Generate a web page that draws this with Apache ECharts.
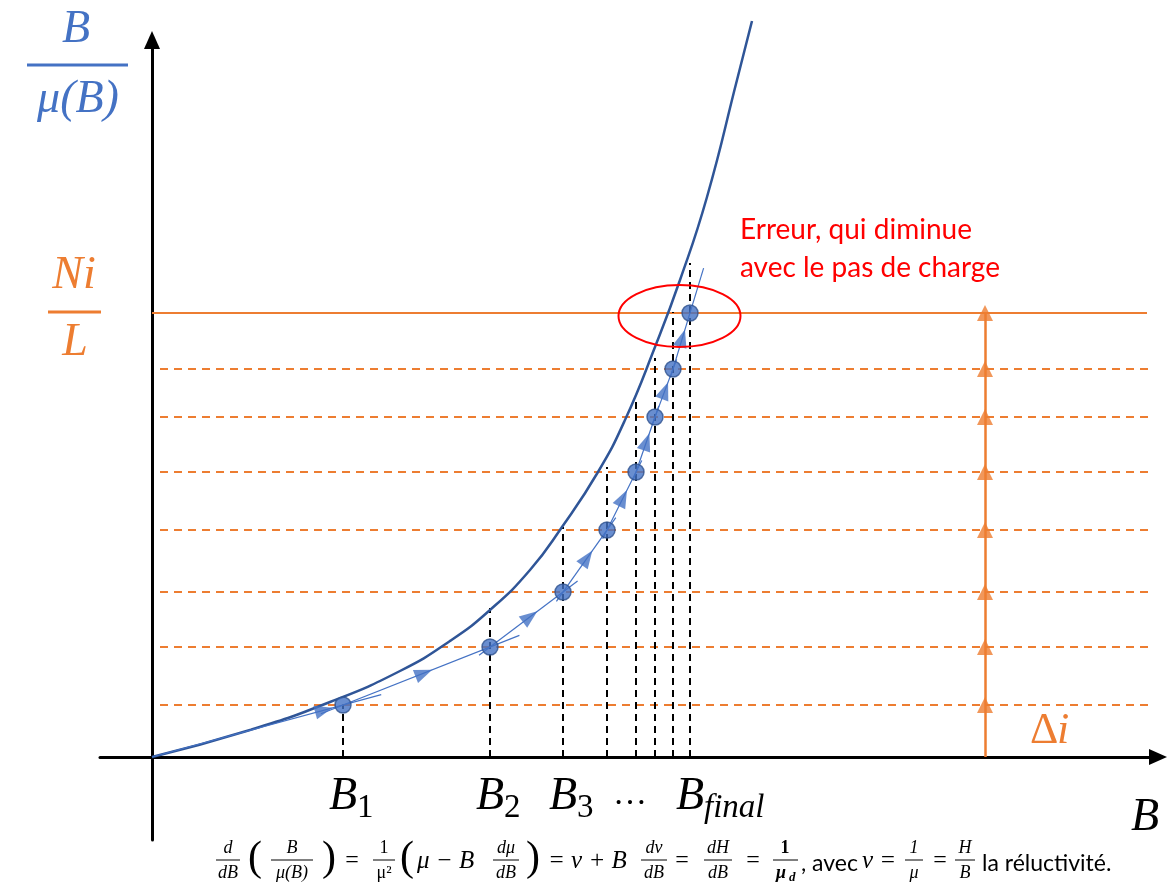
<!DOCTYPE html>
<html>
<head>
<meta charset="utf-8">
<script src="https://cdn.jsdelivr.net/npm/echarts@6/dist/echarts.min.js"></script>
<style>html,body{margin:0;padding:0;background:#fff}#main{width:1167px;height:885px}</style>
</head>
<body>
<div id="main"></div>
<script>
// courbe B/mu(B) en fonction de B (unités arbitraires)
var curveB = [0, 0.98, 1.78, 2.48, 2.98, 3.38, 3.78, 4.10, 4.46, 4.73, 5.03, 5.28, 5.55, 5.85, 6.00];
var curveH = [0, 0.27, 0.55, 0.86, 1.16, 1.47, 1.87, 2.30, 2.85, 3.37, 4.10, 4.77, 5.60, 6.77, 7.36];
// points obtenus pas à pas (B_k, Ni_k/L)
var stepB = [1.91, 3.38, 4.11, 4.55, 4.84, 5.03, 5.21, 5.38];
var stepH = [0.52, 1.10, 1.65, 2.27, 2.85, 3.40, 3.88, 4.44];
// hauteur de la courbe au droit de chaque B_k
var curveAtStep = [0.52, 1.49, 2.30, 2.90, 3.60, 3.99, 4.45, 4.94];
// étiquettes sous l'axe B
var tickB = [1.91, 3.38, 4.11, 4.78, 5.38];
var tickMain = ['B', 'B', 'B', '…', 'B'];
var tickSub = ['1', '2', '3', '', 'final'];
var deltaIB = 8.33;          // position de la flèche des pas de courant
var errCenter = [5.275, 4.41];

var blue = '#4472C4', dark = '#2F5597', orange = '#ED7D31';
var mathFont = '"Liberation Serif", "DejaVu Serif", serif';
var sansFont = 'Lato, "Open Sans", sans-serif';

var chart = echarts.init(document.getElementById('main'));

var curve = curveB.map(function (b, i) { return [b, curveH[i]]; });
var pts = [[0, 0]].concat(stepB.map(function (b, i) { return [b, stepH[i]]; }));

var segs = [], arrows = [];
for (var i = 1; i < pts.length; i++) {
    var a = pts[i - 1], b = pts[i], dx = b[0] - a[0], dy = b[1] - a[1];
    var s0 = i === 1 ? 0 : -0.15, s1 = i === pts.length - 1 ? 1.8 : 1.2;
    segs.push({coords: [[a[0] + s0 * dx, a[1] + s0 * dy], [a[0] + s1 * dx, a[1] + s1 * dy]]});
    var t = i === 1 ? 0.9 : 0.55;
    arrows.push({value: [a[0] + t * dx, a[1] + t * dy], symbolRotate: Math.atan2(dy, dx) * 180 / Math.PI - 90});
}

var hDashed = stepH.slice(0, -1).map(function (h) { return {coords: [[0.08, h], [10.0, h]]}; });
var hSolid = [{coords: [[0, stepH[stepH.length - 1]], [9.95, stepH[stepH.length - 1]]]}];
var vDashed = stepB.map(function (b, i) { return {coords: [[b, 0], [b, curveAtStep[i]]]}; });

var axisCommon = {
    type: 'value',
    axisLine: {onZero: true, symbol: ['none', 'triangle'], symbolSize: [16, 18], lineStyle: {color: '#000', width: 3}},
    axisTick: {show: false},
    axisLabel: {show: false},
    splitLine: {show: false}
};

option = {
    animation: false,
    grid: {left: 100, right: 9, top: 40, bottom: 45},
    xAxis: echarts.util.merge({min: -0.52, max: 10.06}, axisCommon),
    yAxis: echarts.util.merge({min: -0.83, max: 7.17}, axisCommon),
    series: [
        {
            type: 'lines', coordinateSystem: 'cartesian2d', clip: false, z: 2,
            lineStyle: {color: orange, width: 2, type: [8, 6], opacity: 1},
            data: hDashed
        },
        {
            type: 'lines', coordinateSystem: 'cartesian2d', clip: false, z: 2,
            lineStyle: {color: orange, width: 2, opacity: 1},
            data: hSolid
        },
        {
            type: 'lines', coordinateSystem: 'cartesian2d', clip: false, z: 2,
            lineStyle: {color: '#000', width: 2, type: [7, 5], opacity: 1},
            data: vDashed
        },
        {
            type: 'line', data: curve, smooth: 0.5, showSymbol: false, clip: false, z: 4,
            lineStyle: {color: dark, width: 2.5}
        },
        {
            type: 'lines', coordinateSystem: 'cartesian2d', clip: false, z: 5,
            lineStyle: {color: blue, width: 1.2, opacity: 1},
            data: segs
        },
        {
            type: 'scatter', data: arrows, symbol: 'triangle', symbolSize: [14, 18], clip: false, z: 6,
            itemStyle: {color: blue}
        },
        {
            type: 'scatter', data: pts.slice(1), symbolSize: 16, clip: false, z: 7,
            itemStyle: {color: blue, borderColor: '#2F528F', borderWidth: 1.5}
        },
        {
            type: 'lines', coordinateSystem: 'cartesian2d', clip: false, z: 3,
            lineStyle: {color: orange, width: 2.5, opacity: 1},
            data: [{coords: [[deltaIB, 0], [deltaIB, stepH[stepH.length - 1]]]}]
        },
        {
            type: 'scatter', symbol: 'triangle', symbolSize: [16, 16], clip: false, z: 4,
            itemStyle: {color: orange},
            data: stepH.map(function (h) { return [deltaIB, h]; })
        }
    ]
};
chart.setOption(option);

function txt(x, y, text, size, color, o) {
    o = o || {};
    return {
        type: 'text', x: x, y: y, z: 100,
        style: {
            text: text, fill: color || '#000',
            font: (o.style || 'italic') + ' ' + (o.weight || 'normal') + ' ' + size + 'px ' + (o.family || mathFont),
            align: o.align || 'center', verticalAlign: 'middle'
        }
    };
}
function bar(x1, x2, y, color, w) {
    return {type: 'line', z: 100, shape: {x1: x1, y1: y, x2: x2, y2: y}, style: {stroke: color, lineWidth: w}};
}
var g = [];
function frac(cx, num, den, w, o) {
    g.push(txt(cx, 848, num, 18, '#000', o));
    g.push(txt(cx, 873, den, 18, '#000', o));
    g.push(bar(cx - w / 2, cx + w / 2, 860, '#000', 1));
}

// titres des axes
g.push(txt(76, 30, 'B', 46, blue));
g.push(bar(27, 128, 65, blue, 3));
g.push(txt(78, 100, 'μ(B)', 46, blue));
g.push(txt(74, 276, 'Ni', 46, orange));
g.push(bar(48, 101, 312, orange, 3));
g.push(txt(75, 343, 'L', 46, orange));
g.push(txt(1145, 818, 'B', 46, '#000'));
g.push(txt(1030, 731, 'Δ', 44, orange, {style: 'normal', align: 'left'}));
g.push(txt(1057, 731, 'i', 44, orange, {align: 'left'}));

// étiquettes B_k
tickB.forEach(function (b, i) {
    var px = chart.convertToPixel({gridIndex: 0}, [b, 0])[0];
    if (tickMain[i] === '…') {
        g.push(txt(px, 795, '…', 34, '#000', {style: 'normal'}));
        return;
    }
    g.push(txt(px, 797, 'B', 46, '#000'));
    g.push(txt(px + 14, 808, tickSub[i], 33, '#000', {align: 'left', style: tickSub[i] === 'final' ? 'italic' : 'normal'}));
});

// ellipse d'erreur
var ec = chart.convertToPixel({gridIndex: 0}, errCenter);
g.push({type: 'ellipse', z: 90, shape: {cx: ec[0], cy: ec[1], rx: 61, ry: 31}, style: {fill: 'none', stroke: '#FF0000', lineWidth: 2}});
g.push(txt(740, 230, 'Erreur, qui diminue', 28, '#FF0000', {style: 'normal', family: sansFont, align: 'left'}));
g.push(txt(740, 268, 'avec le pas de charge', 28, '#FF0000', {style: 'normal', family: sansFont, align: 'left'}));

// formule du bas
var P = {style: 'normal'};
frac(228, 'd', 'dB', 24);
g.push(txt(255, 859, '(', 42, '#000', P));
frac(292, 'B', 'μ(B)', 42);
g.push(txt(329, 859, ')', 42, '#000', P));
g.push(txt(352, 861, '=', 24, '#000', P));
frac(384, '1', 'μ²', 22, P);
g.push(txt(407, 859, '(', 42, '#000', P));
g.push(txt(417, 861, 'μ − B', 25, '#000', {align: 'left'}));
frac(506, 'dμ', 'dB', 26);
g.push(txt(533, 859, ')', 42, '#000', P));
g.push(txt(548, 861, '= ν + B', 25, '#000', {align: 'left'}));
frac(654, 'dν', 'dB', 26);
g.push(txt(682, 861, '=', 24, '#000', P));
frac(718, 'dH', 'dB', 28);
g.push(txt(753, 861, '=', 24, '#000', P));
g.push(txt(785, 848, '1', 18, '#000', {style: 'normal', weight: 'bold'}));
g.push(txt(781, 873, 'μ', 18, '#000', {weight: 'bold'}));
g.push(txt(789, 878, 'd', 13, '#000', {weight: 'bold', align: 'left'}));
g.push(bar(773, 798, 860, '#000', 1));
g.push(txt(801, 864, ', avec', 23, '#000', {style: 'normal', family: sansFont, align: 'left'}));
g.push(txt(862, 861, 'ν =', 25, '#000', {align: 'left'}));
frac(914, '1', 'μ', 18);
g.push(txt(940, 861, '=', 24, '#000', P));
frac(965, 'H', 'B', 20);
g.push(txt(982, 864, 'la réluctivité.', 23, '#000', {style: 'normal', family: sansFont, align: 'left'}));

chart.setOption({graphic: g});
</script>
</body>
</html>
